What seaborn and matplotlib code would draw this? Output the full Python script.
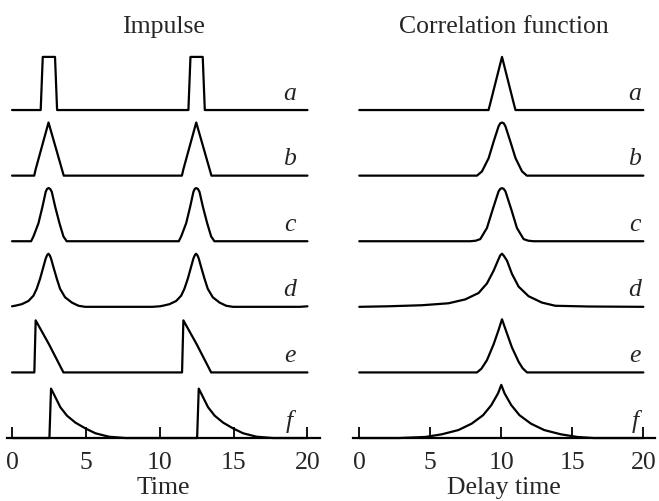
import numpy as np
import pandas as pd
import matplotlib
matplotlib.use('Agg')
import matplotlib.pyplot as plt
import seaborn as sns

sns.set_theme(style='white')
plt.rcParams['font.family'] = ['Liberation Serif', 'DejaVu Serif']

# Impulse shapes, one period (0..10), repeated at +10
imp_a_x = [0, 1.94, 2.08, 2.91, 3.05, 10]
imp_a_y = [0, 0, 1, 1, 0, 0]
imp_b_x = [0, 1.5, 1.6, 2.47, 3.5, 10]
imp_b_y = [0, 0, 0.12, 1, 0, 0]
imp_c_x = [0, 1.29, 1.45, 1.79, 2.06, 2.28, 2.37, 2.47, 2.58, 2.69, 2.92, 3.21, 3.48, 3.7, 10]
imp_c_y = [0, 0, 0.09, 0.34, 0.65, 0.93, 0.985, 1, 0.985, 0.93, 0.65, 0.34, 0.09, 0, 0]
imp_d_x = [0, 0.2, 0.66, 1.11, 1.45, 1.67, 1.90, 2.12, 2.28, 2.37, 2.46, 2.55, 2.64, 2.80,
           3.03, 3.25, 3.59, 4.05, 4.50, 4.95, 9.5, 10]
imp_d_y = [0.01, 0.02, 0.05, 0.11, 0.21, 0.34, 0.53, 0.75, 0.91, 0.97, 1.0, 0.97, 0.91, 0.75,
           0.53, 0.34, 0.18, 0.08, 0.02, 0.0, 0.0, 0.01]
imp_e_x = [0, 1.51, 1.60, 2.5, 3.48, 10]
imp_e_y = [0, 0, 0.98, 0.53, 0, 0]
imp_f_x = [0, 2.53, 2.64, 2.93, 3.27, 3.72, 4.29, 4.97, 5.64, 6.55, 7.67, 10]
imp_f_y = [0, 0, 0.93, 0.77, 0.58, 0.42, 0.29, 0.18, 0.09, 0.025, 0, 0]
pulse_shift = [0, 10]

# Correlation functions (0..20)
cor_a_x = [0, 9.1, 9.2, 10.05, 10.9, 11.0, 20]
cor_a_y = [0, 0, 0.1, 1, 0.1, 0, 0]
cor_b_x = [0, 8.29, 8.64, 9.11, 9.46, 9.81, 9.93, 10.05, 10.17, 10.29, 10.64, 11.0, 11.46, 11.8, 20]
cor_b_y = [0, 0, 0.08, 0.33, 0.64, 0.93, 0.985, 1, 0.985, 0.93, 0.64, 0.33, 0.08, 0, 0]
cor_c_x = [0, 7.82, 8.2, 8.52, 8.99, 9.41, 9.81, 9.93, 10.05, 10.17, 10.29, 10.69, 11.1,
           11.57, 11.9, 12.27, 20]
cor_c_y = [0, 0, 0.01, 0.04, 0.25, 0.61, 0.94, 0.985, 1, 0.985, 0.94, 0.61, 0.25,
           0.04, 0.01, 0, 0]
cor_d_x = [0, 2.0, 4.41, 6.29, 7.46, 8.40, 8.99, 9.46, 9.81, 9.93, 10.05, 10.18, 10.40,
           10.75, 11.22, 11.92, 12.86, 13.80, 16.15, 20]
cor_d_y = [0, 0.01, 0.03, 0.067, 0.14, 0.26, 0.44, 0.68, 0.90, 0.97, 1.0, 0.96, 0.87,
           0.62, 0.38, 0.20, 0.08, 0.02, 0.006, 0]
cor_e_x = [0, 8.29, 8.6, 8.99, 9.46, 9.81, 10.05, 10.35, 10.75, 11.22, 11.5, 11.81, 20]
cor_e_y = [0, 0, 0.07, 0.23, 0.53, 0.80, 1, 0.77, 0.47, 0.20, 0.08, 0, 0]
cor_f_x = [0, 2.79, 4.65, 5.81, 6.98, 7.91, 8.72, 9.30, 9.77, 10.0, 10.23, 10.70, 11.28,
           12.09, 13.02, 14.19, 15.35, 16.5, 20]
cor_f_y = [0, 0, 0.02, 0.07, 0.15, 0.27, 0.43, 0.62, 0.84, 1, 0.84, 0.62, 0.43,
           0.27, 0.15, 0.07, 0.02, 0, 0]

letters = ['a', 'b', 'c', 'd', 'e', 'f']
xticks = [0, 5, 10, 15, 20]

AMP = 0.81
FS = 18.5

impulse = [(imp_a_x, imp_a_y), (imp_b_x, imp_b_y), (imp_c_x, imp_c_y),
           (imp_d_x, imp_d_y), (imp_e_x, imp_e_y), (imp_f_x, imp_f_y)]
corr = [(cor_a_x, cor_a_y), (cor_b_x, cor_b_y), (cor_c_x, cor_c_y),
        (cor_d_x, cor_d_y), (cor_e_x, cor_e_y), (cor_f_x, cor_f_y)]

fig = plt.figure(figsize=(6.59, 5.01), dpi=100)
ax1 = fig.add_axes([0.0102, 0.1257, 0.4754, 0.7725])
ax2 = fig.add_axes([0.5361, 0.1257, 0.4578, 0.7725])


def draw(ax, curves, tile, xlim, letter_x, title, xlabel):
    n = len(curves)
    for i, (xs, ys) in enumerate(curves):
        off = n - 1 - i
        if tile:
            xx = np.concatenate([np.array(xs) + s for s in pulse_shift])
            yy = np.concatenate([np.array(ys) for s in pulse_shift])
        else:
            xx, yy = np.array(xs), np.array(ys)
        df = pd.DataFrame({'x': xx, 'y': off + AMP * yy})
        sns.lineplot(data=df, x='x', y='y', ax=ax, color='black', lw=1.6,
                     estimator=None, sort=False)
        ax.text(letter_x, off + 0.16, letters[i], fontsize=FS, style='italic',
                ha='center', va='baseline')
    for line in ax.lines:
        line.set_clip_on(False)
    ax.set_xlim(*xlim)
    ax.set_ylim(0, 5.9)
    sns.despine(ax=ax, left=True)
    ax.spines['bottom'].set_linewidth(1.6)
    ax.spines['bottom'].set_color('black')
    ax.set_xticks(xticks)
    ax.set_yticks([])
    ax.tick_params(axis='x', direction='in', length=8, width=1.3, color='black',
                   labelsize=FS, pad=10, bottom=True)
    ax.set_title(title, fontsize=FS, pad=13)
    ax.set_xlabel(xlabel, fontsize=FS, labelpad=2)
    ax.set_ylabel('')


draw(ax1, impulse, True, (-0.36, 20.85), 18.8, 'Impulse', 'Time')
draw(ax2, corr, False, (-0.42, 20.82), 19.4, 'Correlation function', 'Delay time')

fig.savefig('out.png', dpi=100)
